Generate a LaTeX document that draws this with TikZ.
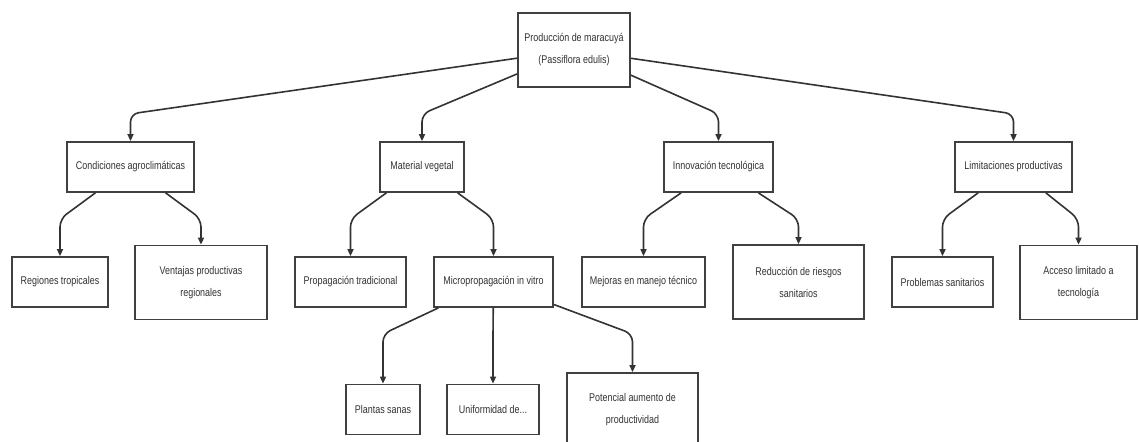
\documentclass[tikz,border=0pt]{standalone}
\usepackage{fontspec}
\setmainfont{Liberation Sans}[FakeStretch=0.8]
\usepackage{tikz}
\usetikzlibrary{arrows.meta, positioning, calc}

\begin{document}
\begin{tikzpicture}[
  x=0.5pt, y=-0.5pt,
  box node/.style={draw=black!75, line width=0.9pt, fill=white, text=black!80,
    font=\fontsize{5.6}{11}\selectfont, align=center, inner sep=0pt, minimum height=25pt},
  tall node/.style={box node, minimum height=37pt},
  link/.style={-{Triangle[length=3.5pt, width=3pt]}, line width=0.8pt, black!80, rounded corners=4pt}
]
  \useasboundingbox (0,0) rectangle (1139,441);

  % Top of the tree
  \node[tall node, minimum width=56pt] (root) at (574,50) {Producción de maracuyá\\(Passiflora edulis)};

  % First level
  \node[box node, minimum width=63.5pt] (cond)  at (130.5,167)  {Condiciones agroclimáticas};
  \node[box node, minimum width=42pt]   (mat)   at (422,167)    {Material vegetal};
  \node[box node, minimum width=54.5pt] (innov) at (718.5,167)  {Innovación tecnológica};
  \node[box node, minimum width=58.5pt] (limit) at (1013.5,167) {Limitaciones productivas};

  % Second level
  \node[box node, minimum width=48pt]    (reg)    at (60,282)     {Regiones tropicales};
  \node[tall node, minimum width=66pt]   (vent)   at (201,282.5)  {Ventajas productivas\\regionales};
  \node[box node, minimum width=55.5pt]  (prop)   at (350.5,282)  {Propagación tradicional};
  \node[box node, minimum width=59.5pt]  (micro)  at (493.5,282)  {Micropropagación in vitro};
  \node[box node, minimum width=61.5pt]  (mejor)  at (643.5,282)  {Mejoras en manejo técnico};
  \node[tall node, minimum width=65.5pt] (reduc)  at (798.5,282)  {Reducción de riesgos\\sanitarios};
  \node[box node, minimum width=50.5pt]  (probl)  at (942.5,282)  {Problemas sanitarios};
  \node[tall node, minimum width=58.5pt] (acceso) at (1078.5,282.5) {Acceso limitado a\\tecnología};

  % Third level
  \node[box node, minimum width=37pt]    (plantas) at (383,409.5) {Plantas sanas};
  \node[box node, minimum width=46pt]    (unif)    at (493,409.5) {Uniformidad de...};
  \node[tall node, minimum width=65.5pt] (poten)   at (632.5,410) {Potencial aumento de\\productividad};

  % Connect each parent to its children
  \foreach \from/\to in {root/cond, root/mat, root/innov, root/limit,
    cond/reg, cond/vent, mat/prop, mat/micro, innov/mejor, innov/reduc,
    limit/probl, limit/acceso, micro/plantas, micro/unif, micro/poten} {
    \draw[link] (\from) -- ([yshift=-13pt]\from.south -| \to.north) -- (\to.north);
  }
\end{tikzpicture}
\end{document}
